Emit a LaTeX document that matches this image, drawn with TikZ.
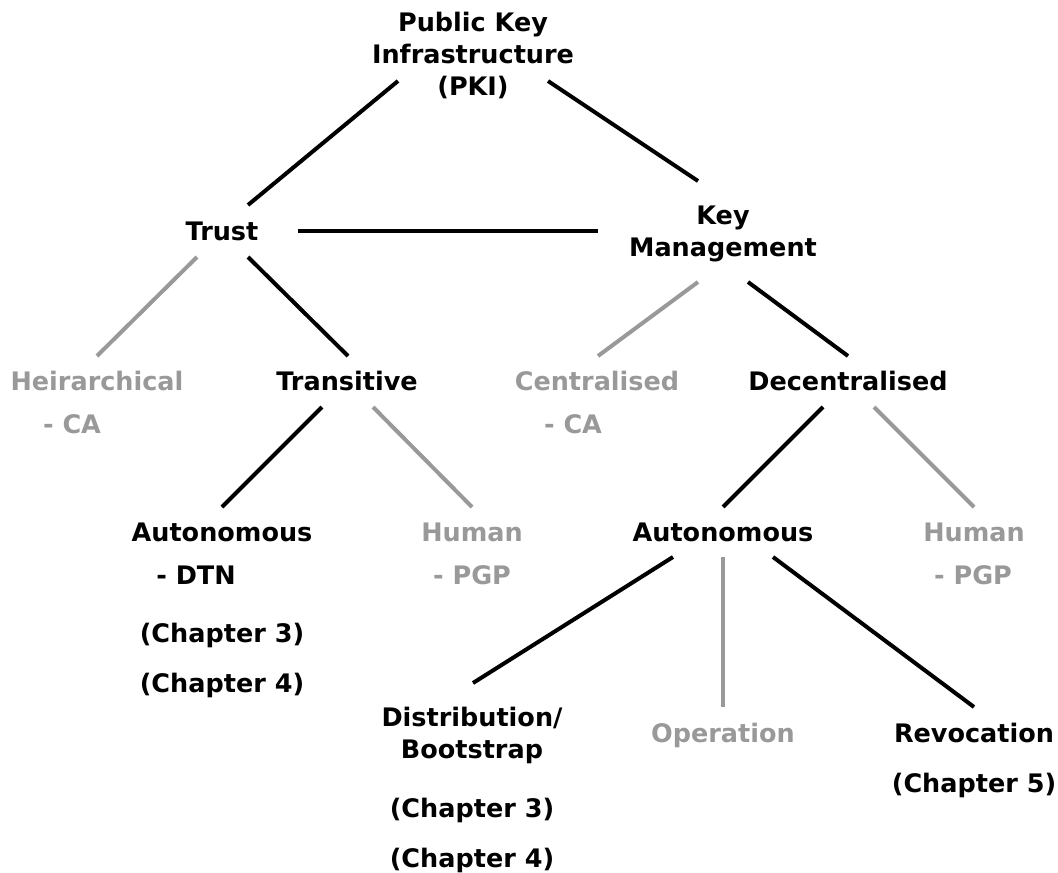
\documentclass[tikz,border=0pt]{standalone}
\usepackage{fontspec}
\setmainfont{DejaVu Sans}
\definecolor{fade}{HTML}{999999}
\tikzset{
  lbl/.style={inner sep=0pt, anchor=base, align=center,
    font=\fontsize{25.5}{32}\selectfont\bfseries},
  dim/.style={lbl, text=fade},
  edge/.style={line width=4pt, black},
  dimedge/.style={line width=4pt, fade},
}
\begin{document}
\begin{tikzpicture}[x=1pt,y=-1pt]
\useasboundingbox (0,0) rectangle (1058,873);

% root and first level (multi-line labels sit on their last baseline)
\node[lbl] (pki) at (473,95) {Public Key\\Infrastructure\\(PKI)};
\node[lbl] (trust) at (222,240) {Trust};
\node[lbl] (km) at (723,256) {Key\\Management};

% second level
\node[dim] (heir) at (97,390) {Heirarchical};
\node[dim] (heirca) at (72,433) {- CA};
\node[lbl] (trans) at (347,390) {Transitive};
\node[dim] (cent) at (597,390) {Centralised};
\node[dim] (centca) at (573,433) {- CA};
\node[lbl] (dec) at (848,390) {Decentralised};

% third level
\node[lbl] (autol) at (222,541) {Autonomous};
\node[lbl] (dtn) at (196,584) {- DTN};
\node[lbl] (chl3) at (222,642) {(Chapter 3)};
\node[lbl] (chl4) at (222,692) {(Chapter 4)};
\node[dim] (huml) at (472,541) {Human};
\node[dim] (pgpl) at (472,584) {- PGP};
\node[lbl] (autor) at (723,541) {Autonomous};
\node[dim] (humr) at (974,541) {Human};
\node[dim] (pgpr) at (973,584) {- PGP};

% fourth level
\node[lbl] (dist) at (472,758) {Distribution/\\Bootstrap};
\node[lbl] (chd3) at (472,817) {(Chapter 3)};
\node[lbl] (chd4) at (472,867) {(Chapter 4)};
\node[dim] (op) at (723,742) {Operation};
\node[lbl] (rev) at (974,742) {Revocation};
\node[lbl] (chr5) at (974,792) {(Chapter 5)};

% connectors
\draw[edge] ([shift={(-75,-14)}]pki.base) -- ([shift={(26,-35)}]trust.base);
\draw[edge] ([shift={(75,-14)}]pki.base) -- ([shift={(-25,-75)}]km.base);
\draw[edge] ([shift={(76,-9)}]trust.base) -- ([shift={(-125,-25)}]km.base);
\draw[dimedge] ([shift={(-25,17)}]trust.base) -- ([shift={(0,-34)}]heir.base);
\draw[edge] ([shift={(26,17)}]trust.base) -- ([shift={(1,-34)}]trans.base);
\draw[dimedge] ([shift={(-25,26)}]km.base) -- ([shift={(1,-34)}]cent.base);
\draw[edge] ([shift={(25,26)}]km.base) -- ([shift={(0,-34)}]dec.base);
\draw[edge] ([shift={(-25,17)}]trans.base) -- ([shift={(0,-34)}]autol.base);
\draw[dimedge] ([shift={(26,17)}]trans.base) -- ([shift={(0,-34)}]huml.base);
\draw[edge] ([shift={(-25,17)}]dec.base) -- ([shift={(0,-34)}]autor.base);
\draw[dimedge] ([shift={(26,17)}]dec.base) -- ([shift={(0,-34)}]humr.base);
\draw[edge] ([shift={(-50,16)}]autor.base) -- ([shift={(1,-75)}]dist.base);
\draw[dimedge] ([shift={(0,16)}]autor.base) -- ([shift={(0,-35)}]op.base);
\draw[edge] ([shift={(50,16)}]autor.base) -- ([shift={(0,-35)}]rev.base);
\end{tikzpicture}
\end{document}
